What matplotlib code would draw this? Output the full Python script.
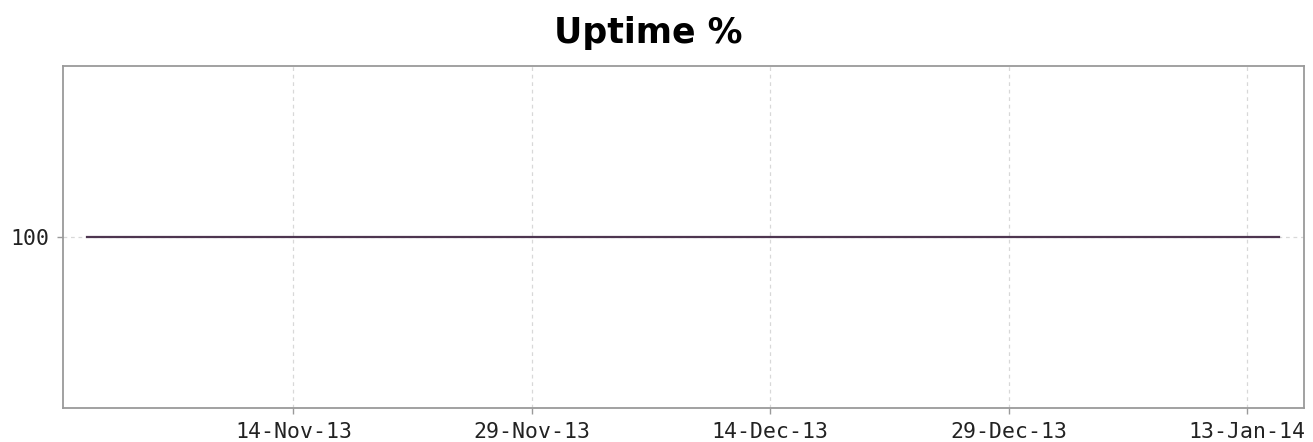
import matplotlib
matplotlib.use("Agg")
import matplotlib.pyplot as plt
import datetime as dt

# Data
dates = ["2013-11-01", "2014-01-15"]
uptime = [100, 100]
tick_dates = ["2013-11-14", "2013-11-29", "2013-12-14", "2013-12-29", "2014-01-13"]
tick_labels = ["14-Nov-13", "29-Nov-13", "14-Dec-13", "29-Dec-13", "13-Jan-14"]
title = "Uptime %"

x = [dt.datetime.strptime(d, "%Y-%m-%d") for d in dates]
tx = [dt.datetime.strptime(d, "%Y-%m-%d") for d in tick_dates]

fig = plt.figure(figsize=(13.13, 4.42), dpi=100)
ax = fig.add_axes([63/1313, 1 - 408/442, (1304-63)/1313, (408-66)/442])

ax.plot(x, uptime, color="#4e3650", lw=1.6, zorder=3)

ax.set_xlim(dt.datetime(2013, 10, 30, 12), dt.datetime(2014, 1, 16, 14))
ax.set_ylim(99, 101)
ax.set_xticks(tx)
ax.set_xticklabels(tick_labels, family="DejaVu Sans Mono", fontsize=15.5, color="#222222")
ax.set_yticks([100])
ax.set_yticklabels(["100"], family="DejaVu Sans Mono", fontsize=15.5, color="#222222")

ax.grid(True, color="#d8d8d8", linestyle=(0, (3, 3)), lw=0.9)
for s in ax.spines.values():
    s.set_color("#9a9a9a")
    s.set_linewidth(1.3)
ax.tick_params(axis="both", length=4, width=1, color="#9a9a9a", pad=6)

fig.text((553+743)/2/1313, 1 - 33/442, title, ha="center", va="center",
         fontsize=25, fontweight="bold", family="DejaVu Sans")

fig.savefig("out.png", dpi=100)
